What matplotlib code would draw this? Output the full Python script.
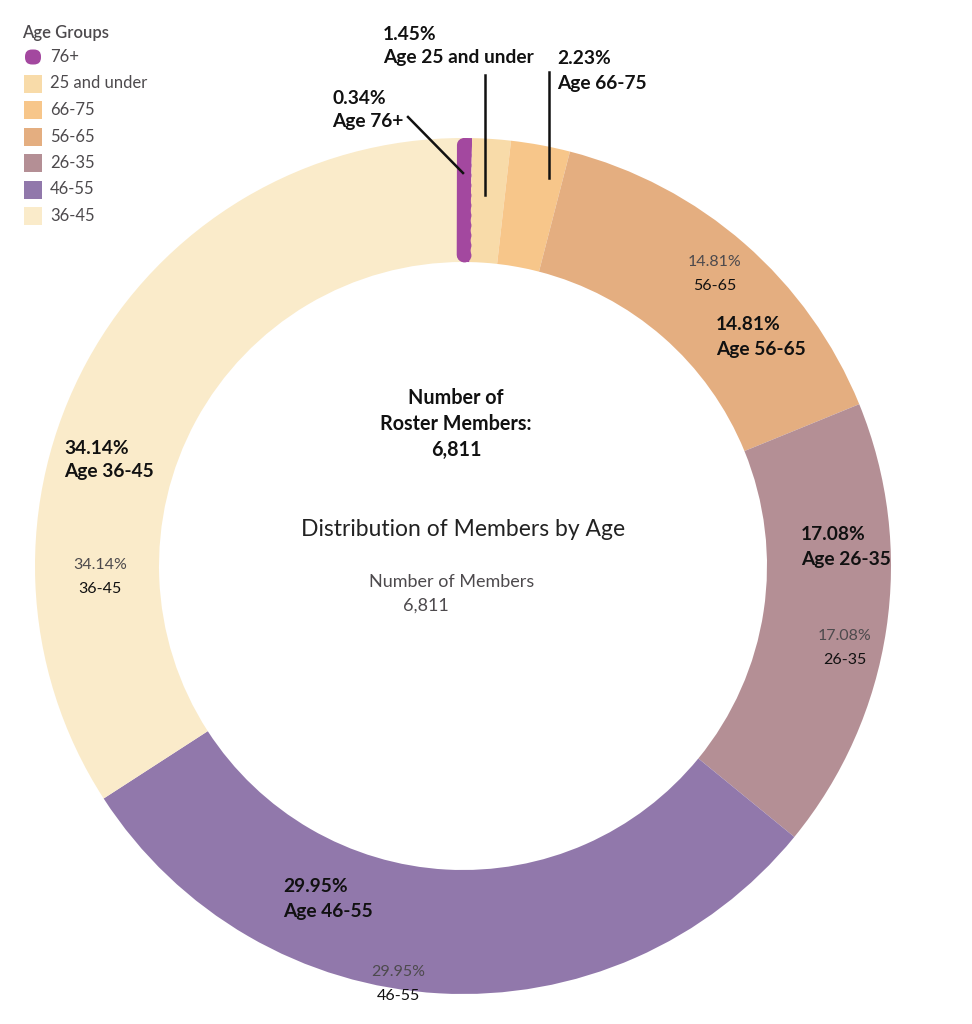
import numpy as np
import matplotlib.pyplot as plt
from matplotlib.patches import Rectangle, FancyBboxPatch

# data, clockwise from 12 o'clock
groups = ["76+", "25 and under", "66-75", "56-65", "26-35", "46-55", "36-45"]
shares = [0.34, 1.45, 2.23, 14.81, 17.08, 29.95, 34.14]
colors = ["#A3489F", "#F8DBA9", "#F7C68A", "#E4AE80", "#B48F95", "#9178AB", "#FAEBCA"]
total_members = "6,811"

W, H = 972, 1024
CX, CY = 463, 566
R_OUT, R_IN = 428, 304


def Y(y):
    return H - y


plt.rcParams["font.family"] = ["Lato", "DejaVu Sans"]
fig = plt.figure(figsize=(W / 100, H / 100), dpi=100)
ax = fig.add_axes([0, 0, 1, 1])

ax.pie(shares, colors=colors, startangle=90, counterclock=False,
       radius=R_OUT, center=(CX, Y(CY)),
       wedgeprops=dict(width=R_OUT - R_IN, linewidth=0))

# the tiny 76+ slice is drawn as a thick rounded bar at its leading edge
ang = np.deg2rad(shares[0] * 3.6 * 0.1)
rr = np.linspace(R_IN + 7, R_OUT - 7, 12)
ax.plot(CX + rr * np.sin(ang), Y(CY) + rr * np.cos(ang), color=colors[0],
        lw=10, solid_capstyle="round", marker="o", ms=10, mew=0)

ax.set_xlim(0, W)
ax.set_ylim(0, H)
ax.axis("off")

dark = "#111111"
grey = "#4d4a4d"
bold = dict(fontsize=13.8, fontweight="bold", color=dark, linespacing=1.5)

# bold labels
ax.text(716, Y(337), "14.81%\nAge 56-65", ha="left", va="center", **bold)
ax.text(801, Y(547), "17.08%\nAge 26-35", ha="left", va="center", **bold)
ax.text(283, Y(899), "29.95%\nAge 46-55", ha="left", va="center", **bold)
ax.text(64, Y(460), "34.14%\nAge 36-45", ha="left", va="center", **bold)
ax.text(332, Y(110), "0.34%\nAge 76+", ha="left", va="center", **bold)
ax.text(383, Y(46), "1.45%\nAge 25 and under", ha="left", va="center", **bold)
ax.text(557, Y(71), "2.23%\nAge 66-75", ha="left", va="center", **bold)

# leader lines
ax.plot([408, 463], [Y(117), Y(173)], color=dark, lw=1.8)
ax.plot([485, 485], [Y(75), Y(195)], color=dark, lw=1.8)
ax.plot([549, 549], [Y(72), Y(178)], color=dark, lw=1.8)

# small in-ring labels
small = [(715, 262, "14.81%", "56-65"), (845, 636, "17.08%", "26-35"),
         (398, 972, "29.95%", "46-55"), (100, 565, "34.14%", "36-45")]
for x, y, pct, lab in small:
    ax.text(x, Y(y), pct, ha="center", va="center", fontsize=11.5,
            color=grey)
    ax.text(x, Y(y + 24), lab, ha="center", va="center", fontsize=11.5,
            color=dark)

# centre text
ax.text(456, Y(424), "Number of\nRoster Members:\n" + total_members,
        ha="center", va="center", fontsize=14.2, fontweight="bold",
        color=dark, linespacing=1.4)
ax.text(CX, Y(530), "Distribution of Members by Age", ha="center",
        va="center", fontsize=16.5, color="#222222")
ax.text(452, Y(582), "Number of Members", ha="center", va="center",
        fontsize=13, color=grey)
ax.text(426, Y(606), total_members, ha="center", va="center",
        fontsize=13, color=grey)

# legend
ax.text(22, Y(33), "Age Groups", ha="left", va="center", fontsize=12,
        color=grey, fontweight="semibold")
for i, (g, c) in enumerate(zip(groups, colors)):
    yc = 57 + i * 26.5
    if i == 0:
        ax.add_patch(FancyBboxPatch((25, Y(yc) - 7.5), 16, 15,
                                    boxstyle="round,pad=0,rounding_size=7",
                                    color=c, lw=0))
    else:
        ax.add_patch(Rectangle((24, Y(yc) - 9), 18, 18, color=c, lw=0))
    ax.text(50, Y(yc), g, ha="left", va="center", fontsize=12, color=grey)

fig.savefig("out.png", dpi=100)
